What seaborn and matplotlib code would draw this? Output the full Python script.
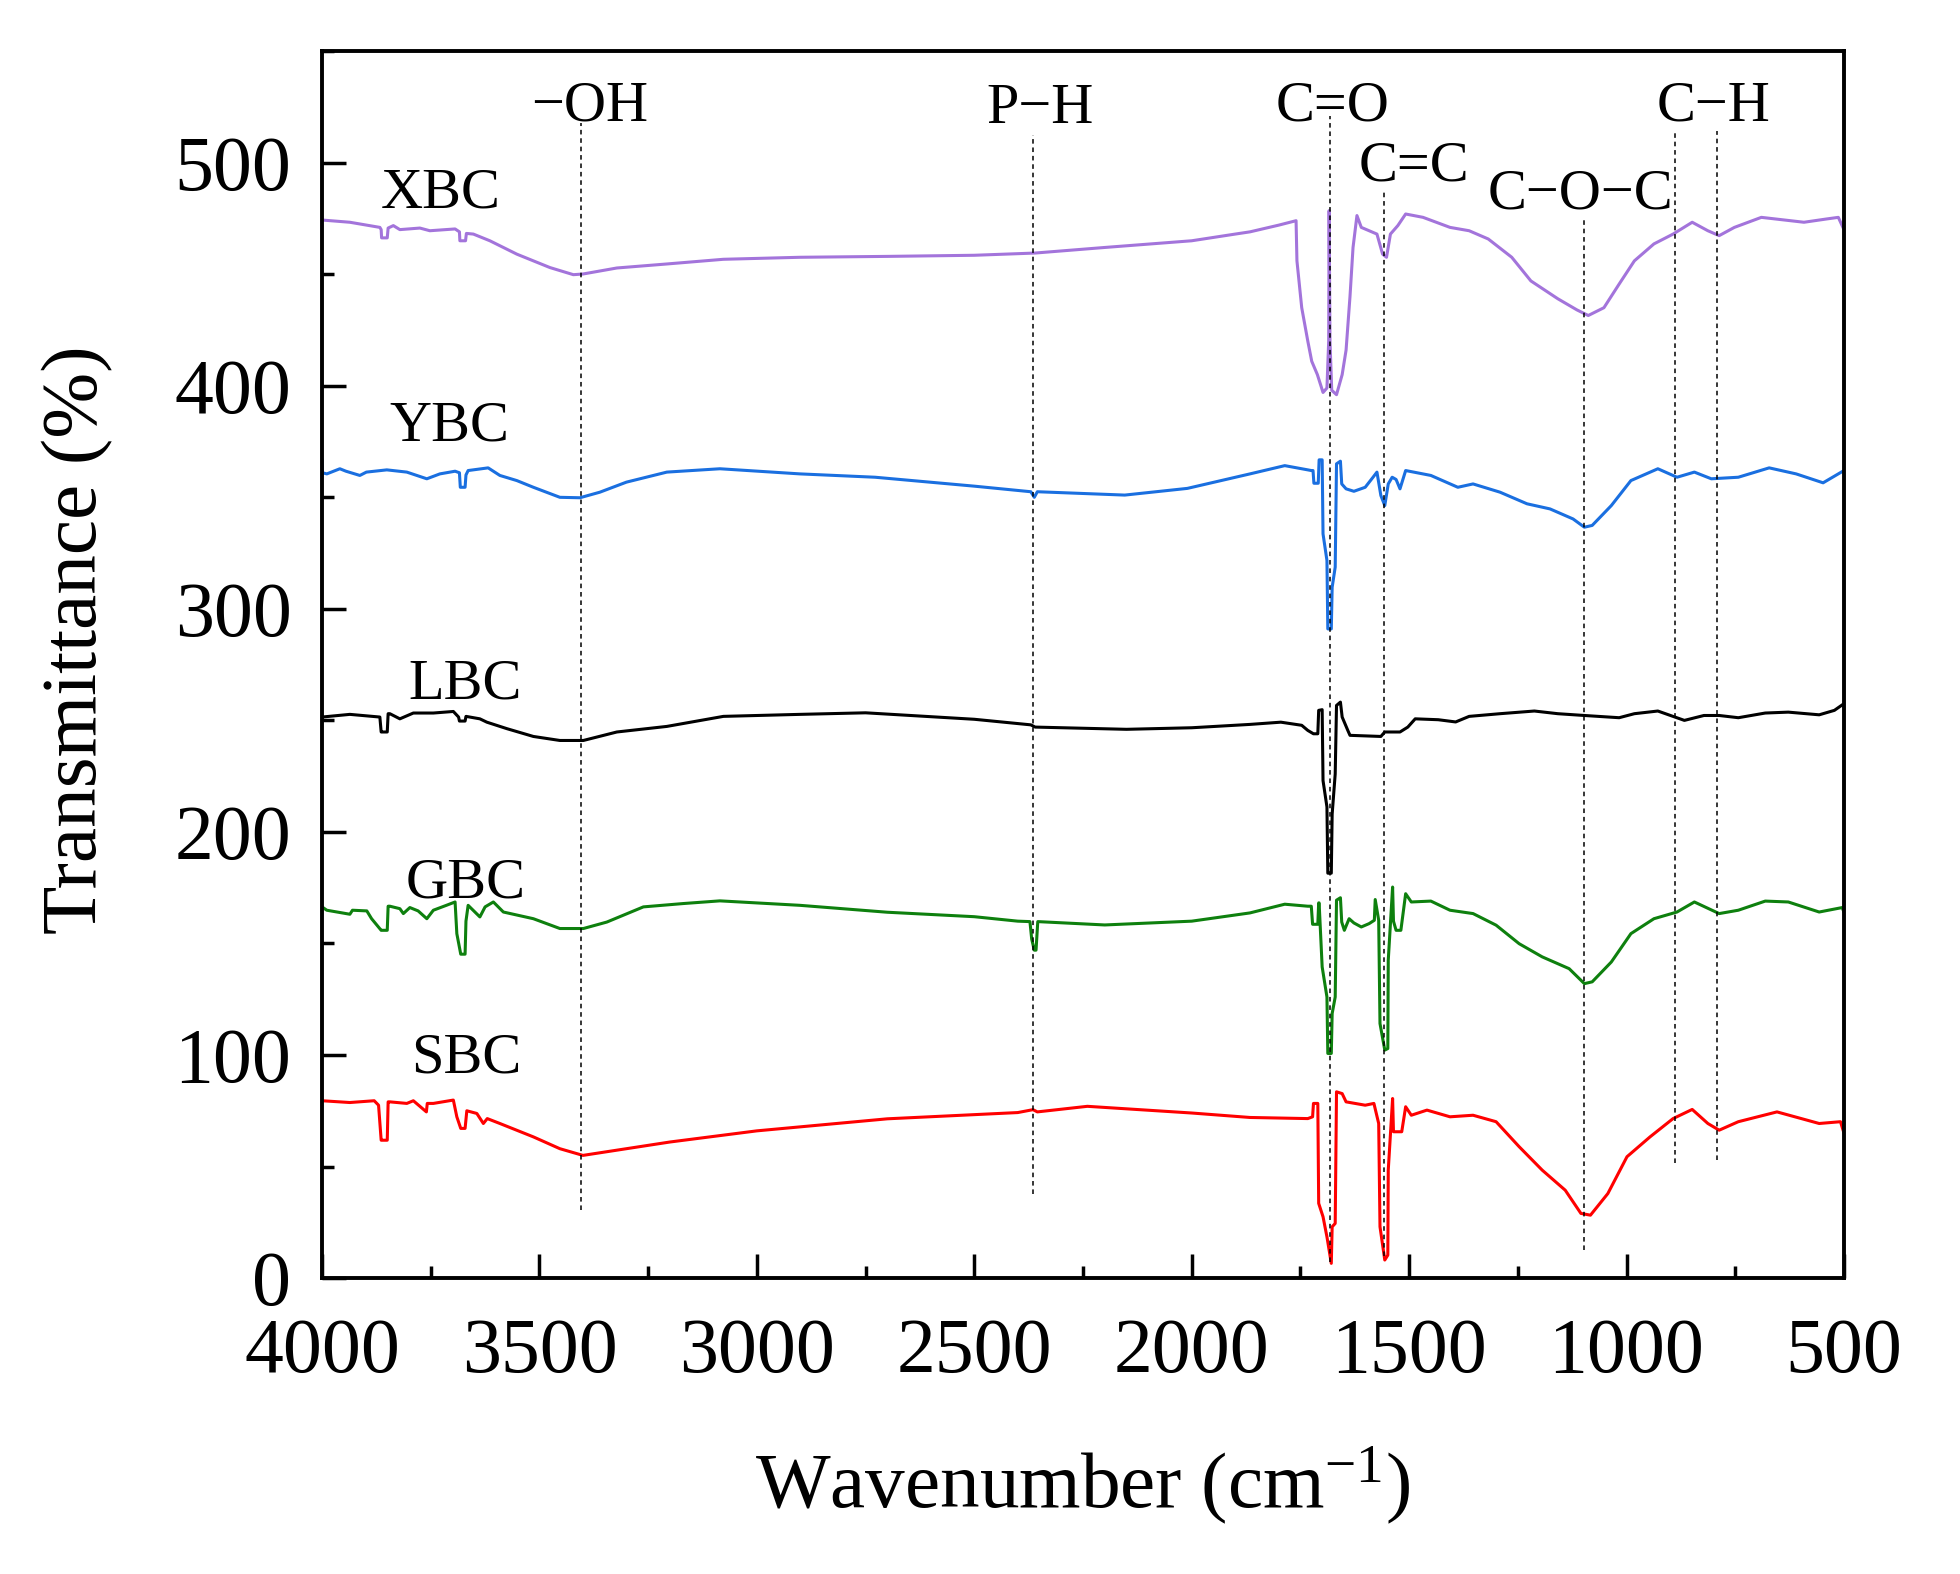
import matplotlib
matplotlib.use("Agg")
import matplotlib.pyplot as plt
from matplotlib.ticker import MultipleLocator
import pandas as pd
import seaborn as sns

# FTIR spectra (wavenumber in cm-1, transmittance in %)
xbc_wn = [4000, 3936, 3867, 3864, 3863, 3850, 3848, 3836, 3821, 3775, 3752, 3694, 3684, 3683, 3670,
          3668, 3652, 3614, 3552, 3476, 3422, 3400, 3322, 3207, 3077, 2901, 2700, 2500, 2360, 2200,
          2000, 1900, 1866, 1800, 1760, 1758, 1747, 1733, 1724, 1711, 1698, 1689, 1685, 1684, 1682,
          1678, 1667, 1654, 1645, 1636, 1629, 1620, 1610, 1574, 1561, 1552, 1543, 1526, 1508, 1468,
          1406, 1362, 1318, 1264, 1220, 1158, 1114, 1088, 1052, 1017, 982, 937, 893, 849, 813,
          787, 752, 690, 592, 539, 513, 500]
xbc_t = [474.3, 473.3, 471, 470, 466.3, 466.3, 470.7, 471.8, 470, 470.7, 469.5, 470.3, 469, 465, 465,
         468.3, 468, 465, 459, 453, 449.8, 450.1, 452.8, 454.6, 456.7, 457.6, 458, 458.5, 459.5, 462,
         465, 468, 469, 472, 474, 456, 435, 420, 411, 405, 397, 399, 420, 478.5, 420,
         398, 396, 405, 416, 440, 462, 476.3, 471, 468, 459, 457.6, 468, 471.8, 477, 475.5,
         471, 469.5, 465.8, 457.6, 447, 439, 434, 431.5, 435, 445.6, 456, 463.6, 468, 473.3, 469.5,
         467.3, 471, 475.5, 473.3, 474.8, 475.5, 470]

ybc_wn = [4000, 3999, 3989, 3959, 3945, 3913, 3898, 3851, 3805, 3759, 3729, 3694, 3684, 3682, 3671,
          3669, 3664, 3618, 3591, 3552, 3514, 3453, 3407, 3361, 3300, 3207, 3085, 2901, 2728, 2500,
          2370, 2362, 2355, 2154, 2010, 1866, 1786, 1733, 1725, 1721, 1719, 1709, 1707, 1700, 1698,
          1689, 1687, 1679, 1677, 1670, 1667, 1658, 1655, 1645, 1627, 1601, 1583, 1574, 1565, 1556,
          1548, 1539, 1530, 1521, 1508, 1450, 1388, 1353, 1291, 1229, 1176, 1123, 1097, 1079, 1035,
          990, 928, 884, 844, 805, 743, 672, 610, 548, 500]
ybc_t = [367, 361, 360.5, 362.8, 361.7, 359.8, 361.3, 362.3, 361.3, 358.3, 360.5, 361.7, 361, 354.5, 354.5,
         360, 362, 363.2, 359.8, 357.5, 354.5, 350, 349.8, 352.3, 356.8, 361.3, 362.8, 360.5, 359, 355,
         352.5, 350, 352.5, 351, 354, 360.5, 364.2, 362.3, 362, 362, 356.3, 356.3, 366.8, 366.8, 333.6,
         321.7, 291, 291, 309.7, 318.7, 365, 366.2, 356, 353.8, 352.7, 354.5, 359, 361.3, 350.8, 346.3,
         356, 359, 358, 353.8, 362, 359.8, 354.5, 356, 352.3, 347.1, 344.8, 340.3, 336.6, 337.4, 346.3,
         357.5, 362.8, 359, 361.3, 358.3, 359, 363.2, 360.5, 356.5, 362]

lbc_wn = [4000, 3936, 3867, 3864, 3862, 3850, 3848, 3844, 3821, 3790, 3744, 3698, 3686, 3684, 3671,
          3669, 3637, 3621, 3575, 3514, 3453, 3399, 3322, 3207, 3077, 2901, 2750, 2500, 2370, 2360,
          2150, 2000, 1866, 1795, 1747, 1733, 1720, 1710, 1708, 1700, 1698, 1689, 1687, 1679, 1677,
          1670, 1667, 1658, 1654, 1641, 1636, 1565, 1556, 1521, 1503, 1486, 1433, 1393, 1362, 1291,
          1212, 1158, 1097, 1017, 982, 928, 867, 822, 787, 743, 681, 628, 557, 522, 500]
lbc_t = [251.5, 252.7, 251.5, 244.8, 244.8, 244.8, 253, 253, 250.7, 253.3, 253.3, 254, 251.5, 249.7, 249.7,
         251.8, 250.7, 249.2, 246.3, 242.8, 241, 241, 244.8, 247.3, 251.8, 252.7, 253.4, 250.5, 248, 247,
         246, 246.7, 248.2, 249.2, 247.8, 245.5, 244, 244, 254.5, 254.8, 223, 211.2, 181.5, 181.5, 208,
         226, 256.7, 258.2, 251.5, 245.5, 243.3, 242.8, 244.8, 244.8, 247, 250.7, 250.3, 249.3, 251.8, 253,
         254.2, 253, 252.2, 251.2, 253, 254.2, 250, 252.2, 252.2, 251.2, 253.3, 253.7, 252.5, 254.5, 257.5]

gbc_wn = [4000, 3989, 3936, 3930, 3897, 3886, 3864, 3862, 3850, 3848, 3844, 3821, 3813, 3798, 3779,
          3759, 3744, 3714, 3694, 3690, 3681, 3671, 3669, 3664, 3637, 3625, 3606, 3583, 3514, 3453,
          3399, 3345, 3261, 3169, 3085, 2901, 2700, 2500, 2400, 2372, 2368, 2362, 2358, 2354, 2200,
          2000, 1866, 1786, 1733, 1725, 1722, 1710, 1708, 1707, 1700, 1689, 1687, 1679, 1677, 1670,
          1667, 1658, 1655, 1649, 1638, 1627, 1610, 1592, 1580, 1578, 1570, 1567, 1556, 1549, 1548,
          1538, 1536, 1530, 1519, 1508, 1495, 1450, 1406, 1353, 1300, 1247, 1194, 1132, 1097, 1079,
          1035, 990, 937, 884, 844, 787, 743, 681, 628, 557, 504, 500]
gbc_t = [166.4, 164.9, 163.1, 164.9, 164.6, 161.1, 155.9, 155.9, 155.9, 166.7, 166.7, 165.6, 163.4, 166.1, 164.6,
         161.1, 164.9, 167.1, 168.6, 154.4, 145.2, 145.2, 160, 167.1, 161.9, 166.4, 168.6, 164.1, 161.1, 156.7,
         156.7, 159.6, 166.4, 167.9, 169.1, 167.1, 164, 162, 160, 159.8, 152, 147, 147, 159.8, 158.3,
         160, 163.7, 167.6, 166.7, 166.7, 158.6, 158.6, 168.2, 168.2, 139.5, 126, 100.7, 100.7, 118.6, 126,
         169.4, 170.5, 159.6, 155.9, 161.1, 159.2, 157.4, 158.9, 160.4, 169.7, 160.4, 114.1, 102.2, 102.9, 142.5,
         175.3, 160, 155.9, 155.9, 172.3, 168.6, 169, 164.9, 163.4, 158.2, 149.9, 144, 138.7, 132, 132.8,
         141.7, 154.4, 161.1, 164.1, 168.6, 163.4, 164.9, 169, 168.6, 164.1, 166.1, 164]

sbc_wn = [4000, 3936, 3880, 3870, 3864, 3862, 3850, 3848, 3844, 3805, 3790, 3760, 3758, 3744, 3698,
          3690, 3681, 3671, 3667, 3644, 3629, 3620, 3591, 3514, 3453, 3400, 3300, 3200, 3000, 2700,
          2400, 2365, 2355, 2240, 2000, 1866, 1733, 1722, 1720, 1710, 1708, 1698, 1689, 1679, 1677,
          1670, 1667, 1654, 1645, 1601, 1581, 1570, 1567, 1556, 1549, 1548, 1538, 1536, 1530, 1517,
          1508, 1495, 1459, 1406, 1353, 1300, 1247, 1194, 1141, 1105, 1083, 1043, 999, 946, 893,
          849, 813, 787, 743, 654, 557, 508, 500]
sbc_t = [79.5, 78.7, 79.5, 77.5, 61.8, 61.8, 61.8, 79, 79, 78.3, 79.5, 74.5, 78.3, 78.3, 79.8,
         72.3, 67.1, 67.1, 75, 73.8, 69.3, 71.5, 69.3, 63.3, 58, 55, 58, 61, 66, 71.4,
         74.2, 75.5, 74.5, 77, 74, 72, 71.5, 72.3, 78.3, 78.3, 33.5, 27.5, 18.5, 6.6, 23,
         24.5, 83.5, 82.7, 79, 77.5, 78.3, 69.3, 23, 8.1, 10.3, 48.4, 80.5, 65.6, 65.6, 65.6,
         76.8, 73, 75.3, 72.3, 73, 70.1, 58.9, 48.4, 39.4, 29, 28.2, 37.9, 54.4, 63.3, 71.5,
         75.6, 69.3, 66.3, 70.1, 74.5, 69.3, 70.1, 65]

samples = ["XBC", "YBC", "LBC", "GBC", "SBC"]
colors = {"XBC": "#a374db", "YBC": "#1a6fe0", "LBC": "#000000", "GBC": "#0e800e", "SBC": "#ff0000"}

# functional group bands: wavenumber and extent of the dashed guide
band_wn = [3404, 2366, 1682, 1558, 1098, 889, 791]
band_top = [517.7, 512.6, 521, 487.5, 474.5, 514, 514]
band_bottom = [30.5, 37.6, 7, 10, 12.5, 51.7, 53]
band_labels = ["\u2212OH", "P\u2212H", "C=O", "C=C", "C\u2212O\u2212C", "C\u2212H"]
band_label_pos = [(3384, 518.8), (2349, 517.7), (1677, 518.8), (1490, 491.9), (1105, 479.4), (800, 518.8)]
sample_label_pos = [(3726, 479.8), (3708, 375.4), (3671, 259.9), (3670, 170.7), (3669, 92.3)]

frames = []
for name, wn, t in zip(samples, [xbc_wn, ybc_wn, lbc_wn, gbc_wn, sbc_wn],
                       [xbc_t, ybc_t, lbc_t, gbc_t, sbc_t]):
    frames.append(pd.DataFrame({"wavenumber": wn, "transmittance": t, "sample": name}))
df = pd.concat(frames, ignore_index=True)

sns.set_style("white")
plt.rcParams["font.family"] = ["Liberation Serif", "DejaVu Serif"]
plt.rcParams["mathtext.fontset"] = "custom"
plt.rcParams["mathtext.rm"] = "Liberation Serif"
plt.rcParams["mathtext.it"] = "Liberation Serif:italic"
for key in ["text.color", "axes.labelcolor", "xtick.color", "ytick.color"]:
    plt.rcParams[key] = "black"

fig = plt.figure(figsize=(19.6, 15.74), dpi=100)
ax = fig.add_axes([0.1643, 0.188, 0.7765, 0.7795])

sns.lineplot(data=df, x="wavenumber", y="transmittance", hue="sample", palette=colors,
             sort=False, estimator=None, linewidth=2.2, legend=False, ax=ax)

ax.vlines(band_wn, band_bottom, band_top, colors="black", linewidth=1.1,
          linestyles=(0, (3, 2.5)))

for lab, (x, y) in zip(band_labels, band_label_pos):
    ax.text(x, y, lab, fontsize=42, ha="center", va="baseline")
for lab, (x, y) in zip(samples, sample_label_pos):
    ax.text(x, y, lab, fontsize=42, ha="center", va="baseline")

ax.set_xlim(4000, 500)
ax.set_ylim(0, 550)
ax.xaxis.set_major_locator(MultipleLocator(500))
ax.xaxis.set_minor_locator(MultipleLocator(250))
ax.yaxis.set_major_locator(MultipleLocator(100))
ax.yaxis.set_minor_locator(MultipleLocator(50))
ax.tick_params(which="both", direction="in", top=False, right=False, width=2.5, labelsize=56)
ax.tick_params(which="major", length=17)
ax.tick_params(which="minor", length=8.5)
ax.tick_params(axis="x", which="both", bottom=True, pad=28)
ax.tick_params(axis="y", which="both", left=True, pad=22)
for s in ax.spines.values():
    s.set_linewidth(2.8)
    s.set_color("black")

ax.set_xlabel("Wavenumber (cm$^{\\mathrm{-1}}$)", fontsize=57)
ax.set_ylabel("Transmittance (%)", fontsize=57)
ax.xaxis.set_label_coords(0.5, -0.135)
ax.yaxis.set_label_coords(-0.137, 0.52)

fig.savefig("out.png", dpi=100, facecolor="white")
